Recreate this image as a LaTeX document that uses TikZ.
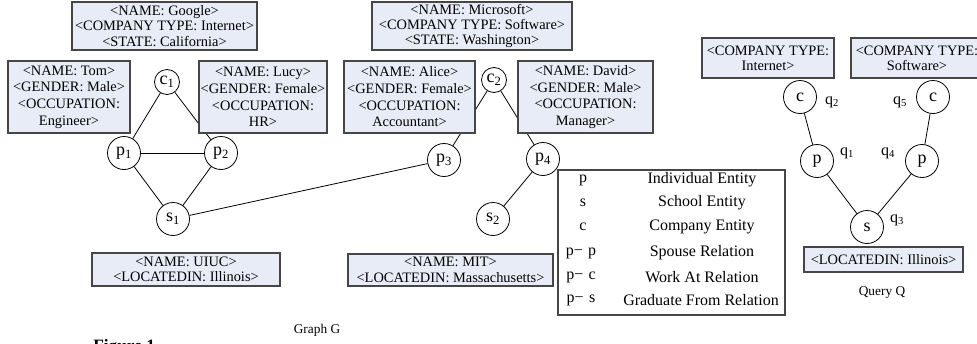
\documentclass[tikz,border=0pt]{standalone}
\usepackage{fontspec}
\setmainfont{Liberation Serif}
\definecolor{boxfill}{RGB}{232,236,247}
\definecolor{boxline}{RGB}{70,70,70}
\begin{document}
\begin{tikzpicture}[x=0.75pt,y=-0.75pt,
  attr/.style={draw=boxline, line width=0.8pt, fill=boxfill, align=center, inner sep=0pt,
    font=\fontsize{10.8}{11.5}\selectfont},
  attrfour/.style={attr, font=\fontsize{10.8}{12.5}\selectfont},
  ent/.style={circle, draw, line width=0.6pt, fill=white, minimum size=33*0.75pt, inner sep=0pt,
    font=\fontsize{13.5}{13.5}\selectfont},
  cent/.style={ent, minimum size=25*0.75pt},
  qlab/.style={inner sep=0pt, font=\fontsize{12}{12}\selectfont},
  leg/.style={inner sep=0pt, font=\fontsize{12}{12}\selectfont},
  captext/.style={inner sep=0pt, font=\fontsize{10}{10}\selectfont},
  link/.style={line width=0.6pt}]
\useasboundingbox (0,0) rectangle (977,343);

% entity nodes, graph G
\node[cent] (c1) at (167,82) {c\textsubscript{1}};
\node[ent] (p1) at (124,153) {p\textsubscript{1}};
\node[ent] (p2) at (221,153) {p\textsubscript{2}};
\node[ent] (s1) at (173,219) {s\textsubscript{1}};
\node[cent] (c2) at (494,80) {c\textsubscript{2}};
\node[ent] (p3) at (444,160) {p\textsubscript{3}};
\node[ent] (p4) at (543,159) {p\textsubscript{4}};
\node[ent] (s2) at (493,219) {s\textsubscript{2}};

% query Q
\node[ent] (qc1) at (800,97) {c};
\node[ent] (qc2) at (933,97) {c};
\node[ent] (qp1) at (817,161) {p};
\node[ent] (qp2) at (922,161) {p};
\node[ent] (qs) at (867,227) {s};

% edges
\draw[link] (c1) -- (p1);
\draw[link] (c1) -- (p2);
\draw[link] (p1) -- (p2);
\draw[link] (p1) -- (s1);
\draw[link] (p2) -- (s1);
\draw[link] (s1) -- (p3);
\draw[link] (c2) -- (p3);
\draw[link] (c2) -- (p4);
\draw[link] (p4) -- (s2);
\draw[link] (qc1) -- (qp1);
\draw[link] (qc2) -- (qp2);
\draw[link] (qp1) -- (qs);
\draw[link] (qp2) -- (qs);

% attribute boxes
\node[attr, minimum width=185*0.75pt, minimum height=48*0.75pt] (google) at (164.5,26)
  {<NAME: Google>\\<COMPANY TYPE: Internet>\\<STATE: California>};
\node[attrfour, minimum width=122*0.75pt, minimum height=72*0.75pt] (tom) at (69,97)
  {<NAME: Tom>\\<GENDER: Male>\\<OCCUPATION:\\Engineer>};
\node[attrfour, minimum width=128*0.75pt, minimum height=72*0.75pt] (lucy) at (263,97)
  {<NAME: Lucy>\\<GENDER: Female>\\<OCCUPATION:\\HR>};
\node[attr, minimum width=200*0.75pt, minimum height=48*0.75pt] (microsoft) at (472,26)
  {<NAME: Microsoft>\\<COMPANY TYPE: Software>\\<STATE: Washington>};
\node[attrfour, minimum width=131*0.75pt, minimum height=72*0.75pt] (alice) at (409.5,97)
  {<NAME: Alice>\\<GENDER: Female>\\<OCCUPATION:\\Accountant>};
\node[attrfour, minimum width=135*0.75pt, minimum height=72*0.75pt] (david) at (585.5,97)
  {<NAME: David>\\<GENDER: Male>\\<OCCUPATION:\\Manager>};
\node[attr, minimum width=188*0.75pt, minimum height=33*0.75pt] (uiuc) at (186,269.5)
  {<NAME: UIUC>\\<LOCATEDIN: Illinois>};
\node[attr, minimum width=205*0.75pt, minimum height=32*0.75pt] (mit) at (450.5,270)
  {<NAME: MIT>\\<LOCATEDIN: Massachusetts>};
\node[attr, minimum width=132*0.75pt, minimum height=40*0.75pt] (qinternet) at (768,58)
  {<COMPANY TYPE:\\Internet>};
\node[attr, minimum width=132*0.75pt, minimum height=40*0.75pt] (qsoftware) at (917,58)
  {<COMPANY TYPE:\\Software>};
\node[attr, minimum width=159*0.75pt, minimum height=25*0.75pt] (qillinois) at (883.5,259.5)
  {<LOCATEDIN: Illinois>};

% query labels
\node[qlab] (q2) at (832,102) {q\textsubscript{2}};
\node[qlab] (q5) at (900,102) {q\textsubscript{5}};
\node[qlab] (q1) at (847,153) {q\textsubscript{1}};
\node[qlab] (q4) at (888,153) {q\textsubscript{4}};
\node[qlab] (q3) at (897,220) {q\textsubscript{3}};

% legend
\node[draw=boxline, line width=0.8pt, minimum width=227*0.75pt, minimum height=145*0.75pt, inner sep=0pt] (legend) at (671.5,242.5) {};
\node[leg] (l1a) at (583,180) {p};
\node[leg] (l2a) at (583,203) {s};
\node[leg] (l3a) at (583,227) {c};
\node[leg] (l4a) at (581,253) {p−\,\,p};
\node[leg] (l5a) at (581,277) {p−\,\,c};
\node[leg] (l6a) at (581,300) {p−\,\,s};
\node[leg] (l1b) at (702,180) {Individual Entity};
\node[leg] (l2b) at (702,203) {School Entity};
\node[leg] (l3b) at (702,227) {Company Entity};
\node[leg] (l4b) at (702,253) {Spouse Relation};
\node[leg] (l5b) at (702,277) {Work At Relation};
\node[leg] (l6b) at (701,300) {Graduate From Relation};

% captions
\node[captext] (graphg) at (317,330) {Graph G};
\node[captext] (queryq) at (882,293) {Query Q};
\node[inner sep=0pt, anchor=north west, font=\bfseries\fontsize{13}{13}\selectfont] (fig) at (93,339) {Figure 1.};
\end{tikzpicture}
\end{document}
